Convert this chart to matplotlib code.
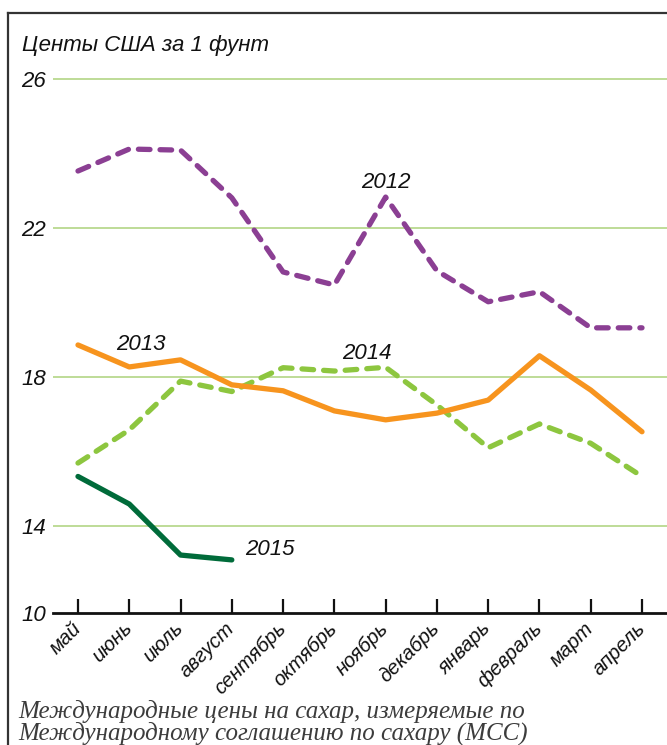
import matplotlib
matplotlib.use("Agg")
import matplotlib.pyplot as plt
from matplotlib.lines import Line2D

months = ["май", "июнь", "июль", "август", "сентябрь", "октябрь",
          "ноябрь", "декабрь", "январь", "февраль", "март", "апрель"]

y2012 = [23.53, 24.12, 24.09, 22.81, 20.82, 20.47, 22.83, 20.85, 20.02, 20.29, 19.32, 19.32]
y2013 = [18.86, 18.27, 18.46, 17.79, 17.63, 17.09, 16.85, 17.03, 17.38, 18.57, 17.65, 16.53]
y2014 = [15.69, 16.58, 17.89, 17.61, 18.25, 18.16, 18.26, 17.25, 16.10, 16.74, 16.22, 15.33]
y2015 = [15.33, 14.59, 13.22, 13.09]

grid_values = [14, 18, 22, 26]
ytick_labels = ["10", "14", "18", "22", "26"]

W, H = 667, 745
fig = plt.figure(figsize=(W / 100, H / 100), dpi=100)

ax_left, ax_right = 53, 667
ax_bottom, ax_top = 613, 60
px_per_unit = 149 / 4
y_lo = 14 - (ax_bottom - 526) / px_per_unit
y_hi = 26 + (79 - ax_top) / px_per_unit
x_step = 51.3
x_lo = -(78 - ax_left) / x_step
x_hi = 11 + (ax_right - 642) / x_step

ax = fig.add_axes([ax_left / W, 1 - ax_bottom / H,
                   (ax_right - ax_left) / W, (ax_bottom - ax_top) / H])
ax.set_xlim(x_lo, x_hi)
ax.set_ylim(y_lo, y_hi)

for v in grid_values:
    ax.axhline(v, color="#b9d98f", lw=1.3, zorder=1)

x = list(range(len(months)))
purple = "#8b3f93"
orange = "#f7941e"
lgreen = "#8dc63f"
dgreen = "#006b3a"

ax.plot(x, y2012, color=purple, lw=3.8, dashes=(2.2, 1.9),
        dash_capstyle="round", solid_joinstyle="round", zorder=3)
ax.plot(x, y2014, color=lgreen, lw=3.8, dashes=(2.2, 1.9),
        dash_capstyle="round", solid_joinstyle="round", zorder=3)
ax.plot(x, y2013, color=orange, lw=3.8, solid_capstyle="round",
        solid_joinstyle="round", zorder=4)
ax.plot(x[:len(y2015)], y2015, color=dgreen, lw=3.8, solid_capstyle="round",
        solid_joinstyle="round", zorder=4)

lab_font = dict(family="Liberation Sans", style="italic", fontsize=16, color="#111111")
ax.text(6.0, 23.21, "2012", ha="center", va="center", **lab_font)
ax.text(1.23, 18.86, "2013", ha="center", va="center", **lab_font)
ax.text(5.63, 18.64, "2014", ha="center", va="center", **lab_font)
ax.text(3.74, 13.38, "2015", ha="center", va="center", **lab_font)

for s in ["top", "right", "left"]:
    ax.spines[s].set_visible(False)
ax.spines["bottom"].set_linewidth(2.0)
ax.spines["bottom"].set_color("#111111")

ax.set_xticks(x)
ax.set_xticklabels(months, rotation=45, ha="right", va="center",
                   rotation_mode="anchor", fontstyle="italic",
                   family="Liberation Sans", fontsize=14.5, color="#111111")
ax.tick_params(axis="x", direction="in", length=10, width=1.6,
               color="#111111", pad=9)

ax.set_yticks([y_lo] + grid_values)
ax.set_yticklabels(ytick_labels, fontstyle="italic", family="Liberation Sans",
                   fontsize=16, color="#111111")
ax.tick_params(axis="y", length=0, pad=5)

fig.text(22 / W, 1 - 45 / H, "Центы США за 1 фунт", ha="left", va="center",
         family="Liberation Sans", style="italic", fontsize=16, color="#111111")

cap = dict(family="Liberation Serif", style="italic", fontsize=18,
           color="#3c3c3c", ha="left", va="baseline")
fig.text(18 / W, 1 - 718 / H, "Международные цены на сахар, измеряемые по", **cap)
fig.text(18 / W, 1 - 740 / H, "Международному соглашению по сахару (МСС)", **cap)

# frame
fig.add_artist(Line2D([8 / W, 1], [1 - 13 / H, 1 - 13 / H],
                      transform=fig.transFigure, color="#333333", lw=1.6))
fig.add_artist(Line2D([8 / W, 8 / W], [1 - 13 / H, 0],
                      transform=fig.transFigure, color="#333333", lw=1.6))

fig.savefig("out.png", dpi=100)
